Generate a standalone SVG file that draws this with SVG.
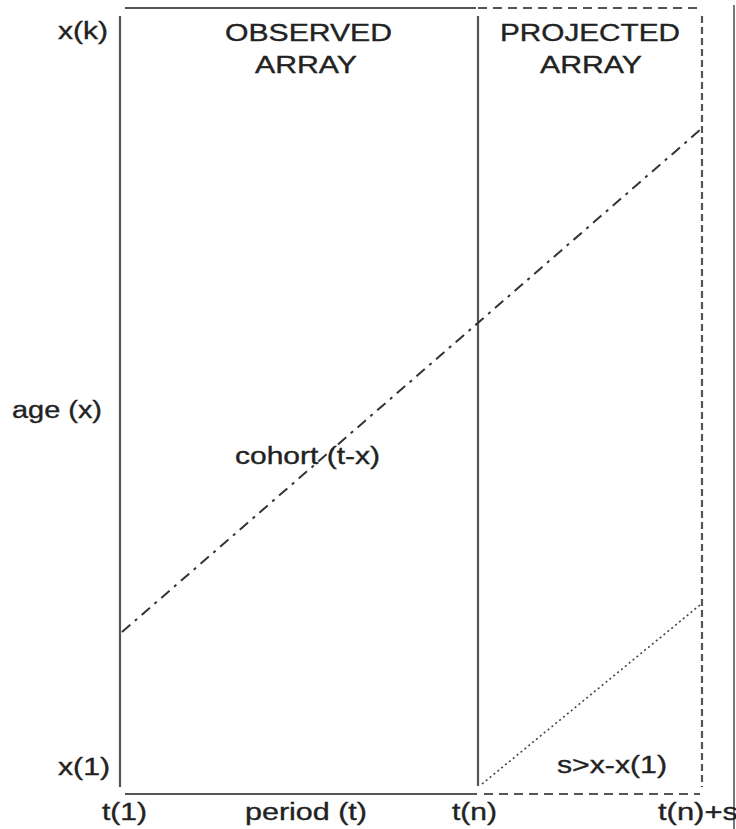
<svg xmlns="http://www.w3.org/2000/svg" width="736" height="829" viewBox="0 0 736 829">
<style>
text{font-family:"Liberation Sans",Arial,sans-serif;font-size:23.5px;fill:#222;stroke:#222;stroke-width:0.35}
.solid{stroke:#555;stroke-width:2.2;fill:none}
.dash{stroke:#555;stroke-width:2.2;fill:none;stroke-dasharray:9 6}
.dashv{stroke:#555;stroke-width:2.2;fill:none;stroke-dasharray:7 4}
.dashdot{stroke:#333;stroke-width:2;fill:none;stroke-dasharray:11 6 3 6}
.dot{stroke:#444;stroke-width:1.6;fill:none;stroke-dasharray:2 3}
</style>
<rect width="736" height="829" fill="#fff"/>
<g id="frame">
<line class="solid" x1="120" y1="16" x2="120" y2="787"/>
<line class="solid" x1="125" y1="8" x2="476" y2="8"/>
<line class="dash" x1="478" y1="8" x2="700" y2="8"/>
<line class="solid" x1="478" y1="16" x2="478" y2="786"/>
<line class="dashv" x1="702" y1="16" x2="702" y2="787"/>
<line class="solid" x1="125" y1="794" x2="477" y2="794"/>
<line class="dash" x1="484" y1="794" x2="700" y2="794"/>
<line stroke="#777" stroke-width="2" x1="734" y1="5" x2="734" y2="829"/>
</g>
<g id="connectors">
<line class="dashdot" x1="122" y1="632" x2="700" y2="130"/>
<line class="dot" x1="482" y1="784" x2="700" y2="605"/>
</g>
<g id="labels">
<text x="58" y="39" textLength="50" lengthAdjust="spacingAndGlyphs">x(k)</text>
<text x="225" y="41" textLength="167" lengthAdjust="spacingAndGlyphs">OBSERVED</text>
<text x="255" y="73" textLength="102" lengthAdjust="spacingAndGlyphs">ARRAY</text>
<text x="500" y="41" textLength="180" lengthAdjust="spacingAndGlyphs">PROJECTED</text>
<text x="540" y="73" textLength="102" lengthAdjust="spacingAndGlyphs">ARRAY</text>
<text x="12" y="418" textLength="90" lengthAdjust="spacingAndGlyphs">age (x)</text>
<text x="235" y="464" textLength="145" lengthAdjust="spacingAndGlyphs">cohort (t-x)</text>
<text x="58" y="775" textLength="52" lengthAdjust="spacingAndGlyphs">x(1)</text>
<text x="557" y="773" textLength="110" lengthAdjust="spacingAndGlyphs">s&gt;x-x(1)</text>
<text x="102" y="820" textLength="45" lengthAdjust="spacingAndGlyphs">t(1)</text>
<text x="245" y="820" textLength="122" lengthAdjust="spacingAndGlyphs">period (t)</text>
<text x="452" y="820" textLength="45" lengthAdjust="spacingAndGlyphs">t(n)</text>
<text x="658" y="820" textLength="80" lengthAdjust="spacingAndGlyphs">t(n)+s</text>
</g>
</svg>
